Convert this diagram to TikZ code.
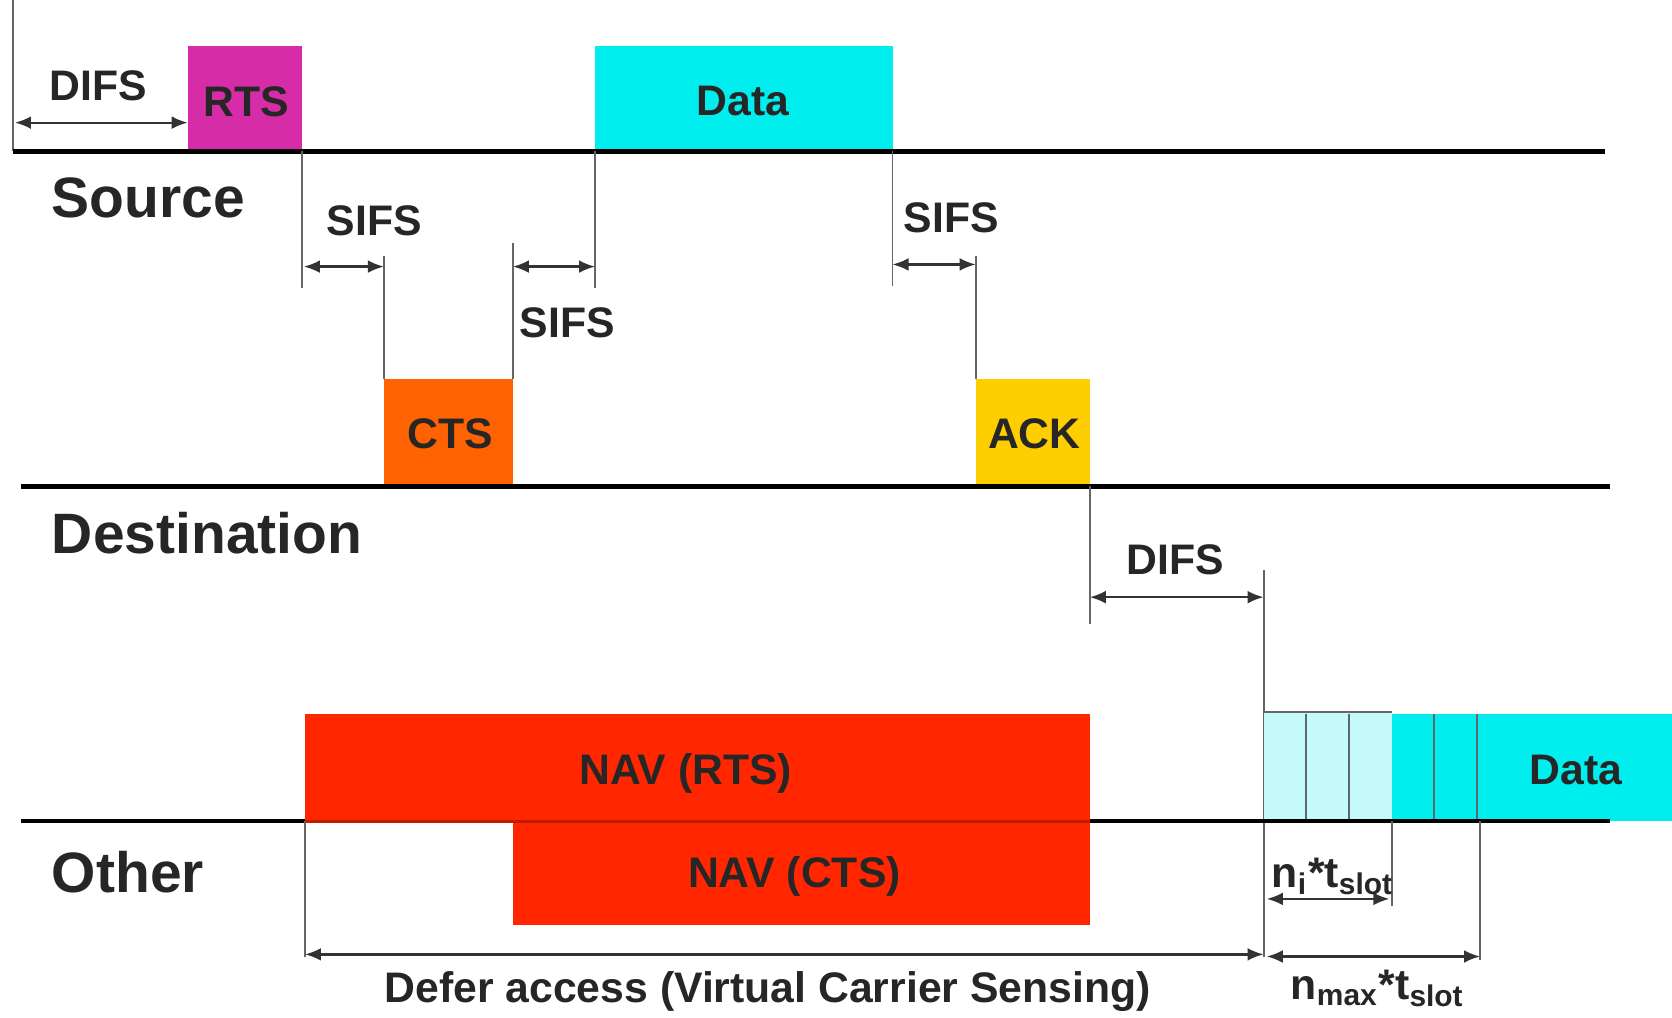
\documentclass[tikz,border=0pt]{standalone}
\usepackage{fontspec}
\setmainfont{Liberation Sans}
\usetikzlibrary{arrows.meta}
\definecolor{rtscol}{RGB}{214,44,168}
\definecolor{datacol}{RGB}{0,238,238}
\definecolor{slotcol}{RGB}{196,250,250}
\definecolor{ctscol}{RGB}{255,98,0}
\definecolor{ackcol}{RGB}{255,206,0}
\definecolor{navcol}{RGB}{255,38,0}
\begin{document}
\begin{tikzpicture}[x=0.1mm,y=-0.1mm,
  lbl/.style={font=\fontsize{11.4}{13}\selectfont\bfseries,text=black!85,inner sep=0pt},
  rowlbl/.style={font=\fontsize{15.2}{18}\selectfont\bfseries,text=black!85,inner sep=0pt,anchor=west},
  timeline/.style={line width=1.2pt},
  guide/.style={black!60,line width=0.5pt},
  span/.style={{Latex[length=1.5mm,width=1.2mm]}-{Latex[length=1.5mm,width=1.2mm]},black!80,line width=0.6pt}]
\fill[white] (0,0) rectangle (1568,954);
\useasboundingbox (0,0) rectangle (1568,954);

% Source
\draw[guide] (12,0) -- (12,142);
\fill[rtscol] (176,43) rectangle (283,142);
\fill[datacol] (558,43) rectangle (837,142);
\draw[timeline] (12,142) -- (1505,142);
\node[lbl] (difsa) at (92,80) {DIFS};
\draw[span] (14,115) -- (176,115);
\node[lbl] (rts) at (231,95) {RTS};
\node[lbl] (data) at (697,95) {Data};
\node[rowlbl] (src) at (48,186) {Source};

% SIFS gaps
\draw[guide] (283,142) -- (283,270);
\draw[guide] (360,240) -- (360,355);
\draw[span] (285,250) -- (360,250);
\node[lbl] (sifsa) at (351,207) {SIFS};
\draw[guide] (481,228) -- (481,355);
\draw[guide] (558,142) -- (558,270);
\draw[span] (481,250) -- (558,250);
\node[lbl] (sifsb) at (532,303) {SIFS};
\draw[guide] (837,142) -- (837,268);
\draw[guide] (915,240) -- (915,355);
\draw[span] (837,248) -- (915,248);
\node[lbl] (sifsc) at (892,204) {SIFS};

% Destination
\fill[ctscol] (360,355) rectangle (481,456);
\fill[ackcol] (915,355) rectangle (1022,456);
\draw[timeline] (20,456) -- (1510,456);
\node[lbl] (cts) at (422,407) {CTS};
\node[lbl] (ack) at (970,407) {ACK};
\node[rowlbl] (dst) at (48,500) {Destination};

% DIFS before backoff
\draw[guide] (1022,456) -- (1022,585);
\draw[guide] (1185,535) -- (1185,897);
\draw[span] (1022,560) -- (1185,560);
\node[lbl] (difsb) at (1102,525) {DIFS};

% Other
\draw[timeline] (20,770) -- (1510,770);
\fill[navcol] (286,670) rectangle (1022,770);
\fill[navcol] (481,770) rectangle (1022,867);
\draw[navcol!75!black,line width=0.8pt] (286,770) -- (1022,770);
\node[lbl] (navrts) at (643,725) {NAV (RTS)};
\node[lbl] (navcts) at (745,822) {NAV (CTS)};
\node[rowlbl] (oth) at (48,818) {Other};

% Backoff slots and data
\fill[slotcol] (1185,668) rectangle (1305,770);
\fill[datacol] (1305,670) rectangle (1568,770);
\draw[guide] (1185,668) -- (1305,668);
\foreach \sx in {1225,1265,1345,1385}
  \draw[guide] (\sx,670) -- (\sx,770);
\draw[timeline] (1185,770) -- (1510,770);
\node[lbl] (datab) at (1478,722) {Data};

% Defer and contention window
\draw[guide] (286,770) -- (286,897);
\draw[span] (286,895) -- (1185,895);
\node[lbl] (defer) at (720,930) {Defer access (Virtual Carrier Sensing)};
\draw[guide] (1305,770) -- (1305,850);
\draw[span] (1188,843) -- (1303,843);
\node[lbl] (ni) at (1250,822) {n\textsubscript{i}*t\textsubscript{slot}};
\draw[guide] (1388,770) -- (1388,900);
\draw[span] (1188,897) -- (1388,897);
\node[lbl] (nmax) at (1292,927) {n\textsubscript{max}*t\textsubscript{slot}};
\end{tikzpicture}
\end{document}
